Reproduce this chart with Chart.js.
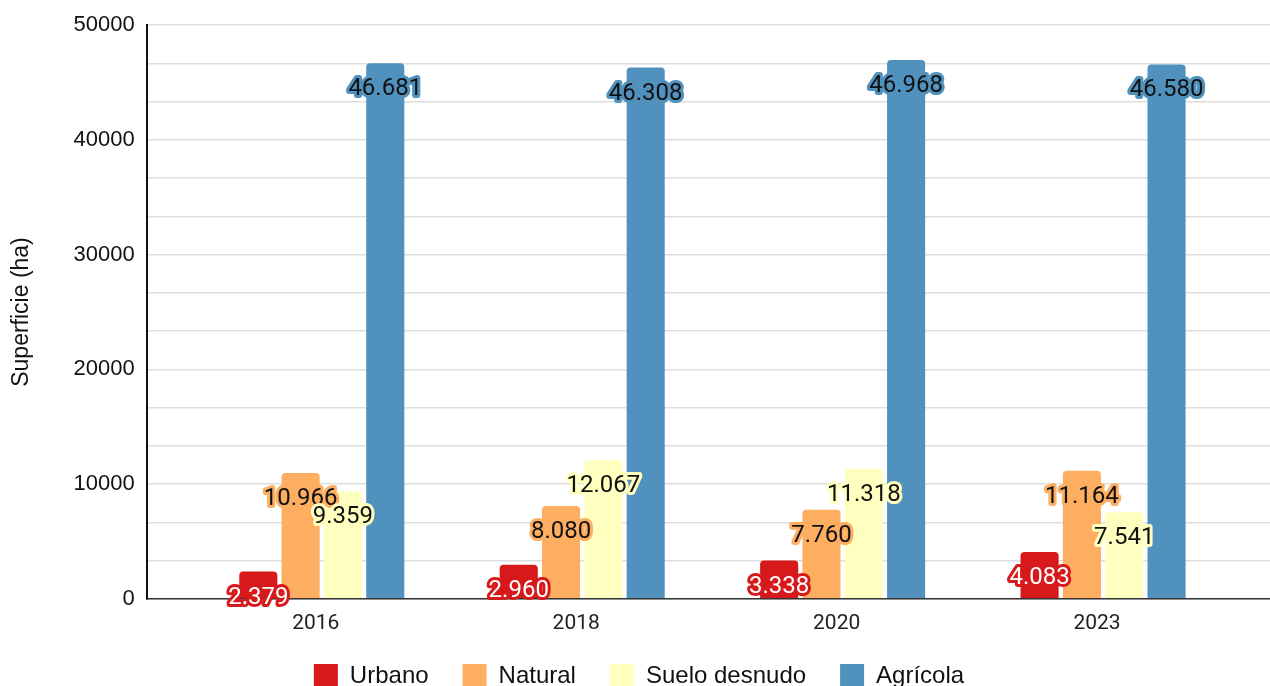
<!DOCTYPE html>
<html>
<head>
<meta charset="utf-8">
<script src="https://cdn.jsdelivr.net/npm/chart.js@4.4.0/dist/chart.umd.min.js"></script>
<style>
  html, body { margin: 0; padding: 0; background: #fff; }
  #wrap { width: 1270px; height: 686px; }
</style>
</head>
<body>
<div id="wrap"><canvas id="myBarChart"></canvas></div>
<script>
const years = ['2016', '2018', '2020', '2023'];
const urbano = [2379, 2960, 3338, 4083];
const natural = [10966, 8080, 7760, 11164];
const sueloDesnudo = [9359, 12067, 11318, 7541];
const agricola = [46681, 46308, 46968, 46580];

const names = ['Urbano', 'Natural', 'Suelo desnudo', 'Agrícola'];
const colors = ['#d7191c', '#fdae61', '#ffffbf', '#5091bd'];
const series = [urbano, natural, sueloDesnudo, agricola];

// miles con punto: 46681 -> 46.681
function fmt(v) {
    return String(v).replace(/\B(?=(\d{3})+(?!\d))/g, '.');
}

const labelPlugin = {
    id: 'valueLabels',
    afterDatasetsDraw(chart) {
        const ctx = chart.ctx;
        ctx.save();
        ctx.font = '24px Roboto';
        ctx.textAlign = 'center';
        ctx.textBaseline = 'middle';
        ctx.lineJoin = 'round';
        ctx.lineWidth = 6;
        chart.data.datasets.forEach((ds, i) => {
            const meta = chart.getDatasetMeta(i);
            meta.data.forEach((bar, j) => {
                const txt = fmt(series[i][j]);
                const y = bar.y + 26;
                ctx.strokeStyle = colors[i];
                ctx.strokeText(txt, bar.x, y);
                ctx.fillStyle = i === 0 ? '#ffffff' : '#111111';
                ctx.fillText(txt, bar.x, y);
            });
        });
        ctx.restore();
    }
};

const ctxBar = document.getElementById('myBarChart').getContext('2d');

const myBarChart = new Chart(ctxBar, {
    type: 'bar',
    data: {
        datasets: series.map((s, i) => ({
            label: names[i],
            data: s.map((v, j) => ({ x: j, y: v })),
            backgroundColor: colors[i],
            borderWidth: 0,
            borderRadius: 4,
            borderSkipped: 'bottom',
            barPercentage: 0.9,
            categoryPercentage: 0.65
        }))
    },
    options: {
        responsive: true,
        maintainAspectRatio: false,
        animation: false,
        layout: { padding: { top: 16, right: 0, left: 8, bottom: -12 } },
        scales: {
            x: {
                type: 'linear',
                offset: false,
                min: -0.672,
                max: 3.641,
                grid: { display: false, drawTicks: false },
                border: { color: '#333', width: 1.5 },
                afterFit: scale => { scale.height -= 18; },
                ticks: {
                    stepSize: 1,
                    includeBounds: false,
                    autoSkip: false,
                    maxRotation: 0,
                    padding: 12,
                    labelOffset: -6,
                    color: '#222',
                    font: { family: 'Roboto', size: 21 },
                    callback: v => years[v] !== undefined ? years[v] : ''
                }
            },
            y: {
                min: 0,
                max: 50000,
                grid: { color: '#dedede', lineWidth: 1.5, drawTicks: false },
                border: { color: '#111', width: 2 },
                ticks: {
                    stepSize: 10000 / 3,
                    autoSkip: false,
                    padding: 12,
                    color: '#111',
                    font: { family: 'Liberation Sans', size: 22 },
                    callback: v => {
                        const r = Math.round(v / 10000);
                        return Math.abs(v / 10000 - r) < 1e-6 ? String(r * 10000) : '';
                    }
                },
                title: {
                    display: true,
                    text: 'Superficie (ha)',
                    color: '#111',
                    font: { family: 'Liberation Sans', size: 23 },
                    padding: { top: 0, bottom: 26 }
                }
            }
        },
        plugins: {
            legend: {
                position: 'bottom',
                labels: {
                    boxWidth: 24,
                    boxHeight: 24,
                    padding: 34,
                    color: '#111',
                    font: { family: 'Liberation Sans', size: 24 }
                }
            },
            tooltip: { enabled: false }
        }
    },
    plugins: [labelPlugin]
});
</script>
</body>
</html>
